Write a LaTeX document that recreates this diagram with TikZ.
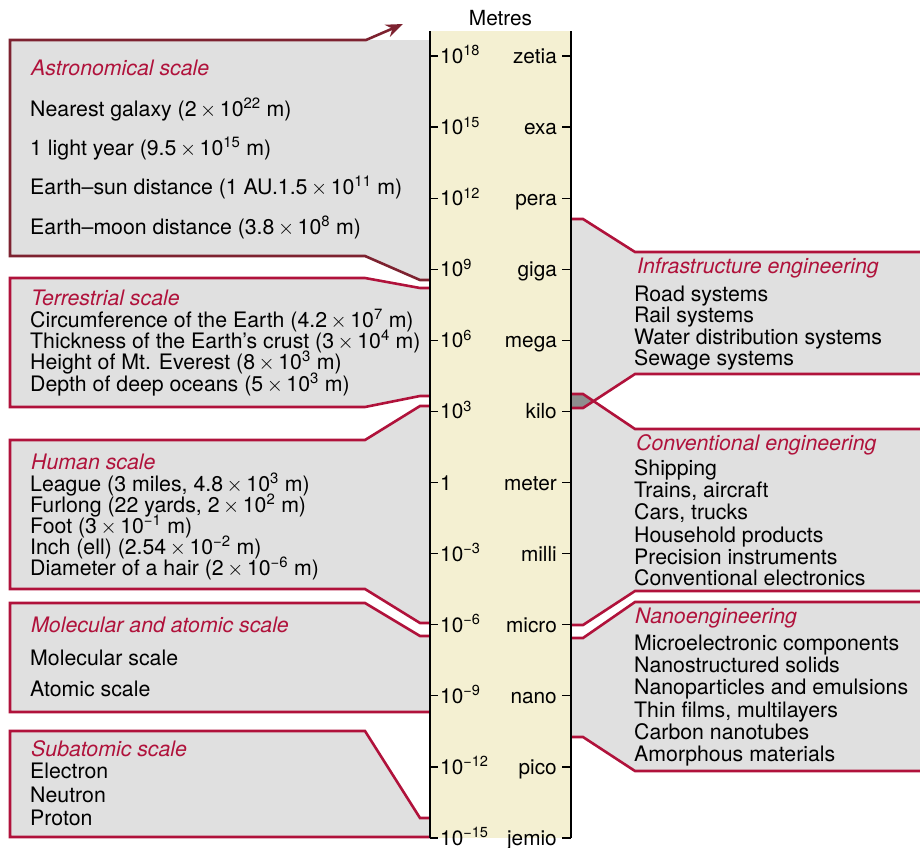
\documentclass[tikz,border=0pt]{standalone}
\usepackage{fontspec}
\setmainfont{TeX Gyre Heros}
\usetikzlibrary{arrows.meta}
\definecolor{crim}{HTML}{B0123B}
\definecolor{maroon}{HTML}{7D2230}
\definecolor{boxgray}{HTML}{E0E0E0}
\definecolor{cream}{HTML}{F4F0D2}
\definecolor{overlapgray}{HTML}{8E8E8E}
\newcommand{\tms}{\,$\times$\,}
\begin{document}
\begin{tikzpicture}[x=1pt,y=-1pt,
  redline/.style={draw=crim,line width=2.6pt,line join=miter},
  astroline/.style={draw=maroon,line width=2.6pt,line join=miter},
  txt/.style={anchor=base west,inner sep=0pt,font=\fontsize{21.3}{22}\selectfont,text=black},
  ttl/.style={anchor=base west,inner sep=0pt,font=\fontsize{21.3}{22}\selectfont\itshape,text=crim},
  scl/.style={inner sep=0pt,font=\fontsize{20.8}{22}\selectfont,text=black},
  tick/.style={draw=black,line width=1.2pt},
]
\useasboundingbox (0,0) rectangle (920,847);

% ---------- left boxes: fills ----------
\fill[boxgray] (10,40) -- (430,40) -- (430,280) -- (420,280) -- (365,256) -- (10,256) -- cycle;
\fill[boxgray] (10,278) -- (365,278) -- (420,288) -- (430,288) -- (430,396) -- (420,396) -- (365,407) -- (10,407) -- cycle;
\fill[boxgray] (10,440) -- (365,440) -- (420,406) -- (430,406) -- (430,623) -- (420,623) -- (365,589) -- (10,589) -- cycle;
\fill[boxgray] (10,603) -- (365,603) -- (420,636) -- (430,636) -- (430,712) -- (10,712) -- cycle;
\fill[boxgray] (10,731) -- (365,731) -- (420,818) -- (430,818) -- (430,837) -- (10,837) -- cycle;

% ---------- right boxes: fills ----------
\fill[boxgray] (571,219) -- (583,219) -- (635,252) -- (920,252) -- (920,374) -- (635,374) -- (583,408) -- (571,408) -- cycle;
\fill[boxgray] (571,394) -- (583,394) -- (635,429) -- (920,429) -- (920,591) -- (635,591) -- (583,625) -- (571,625) -- cycle;
\fill[boxgray] (571,638) -- (583,638) -- (635,602) -- (920,602) -- (920,771) -- (635,771) -- (583,737) -- (571,737) -- cycle;
\fill[overlapgray] (571,394) -- (583,394) -- (593,401) -- (583,408) -- (571,408) -- cycle;

% ---------- outlines ----------
\draw[astroline,-{Stealth[length=17pt,width=13pt]}] (430,280) -- (420,280) -- (365,256) -- (10,256) -- (10,40) -- (366,40) -- (403,24);
\draw[redline] (430,288) -- (420,288) -- (365,278) -- (10,278) -- (10,407) -- (365,407) -- (420,396) -- (430,396);
\draw[redline] (430,406) -- (420,406) -- (365,440) -- (10,440) -- (10,589) -- (365,589) -- (420,623) -- (430,623);
\draw[redline] (430,636) -- (420,636) -- (365,603) -- (10,603) -- (10,712) -- (430,712);
\draw[redline] (430,818) -- (420,818) -- (365,731) -- (10,731) -- (10,837) -- (430,837);

\draw[redline] (571,219) -- (583,219) -- (635,252) -- (920,252);
\draw[redline] (571,408) -- (583,408) -- (635,374) -- (920,374);
\draw[redline] (571,394) -- (583,394) -- (635,429) -- (920,429);
\draw[redline] (571,625) -- (583,625) -- (635,591) -- (920,591);
\draw[redline] (571,638) -- (583,638) -- (635,602) -- (920,602);
\draw[redline] (571,737) -- (583,737) -- (635,771) -- (920,771);

% ---------- scale column ----------
\fill[cream] (430,31) rectangle (571,838);
\draw[black,line width=1.3pt] (430,31) -- (430,838);
\draw[black,line width=1.3pt] (571,31) -- (571,838);
\node[scl,anchor=base] (metres) at (500.5,25) {Metres};

\foreach \i/\l/\r in {0/{10\textsuperscript{18}}/zetia, 1/{10\textsuperscript{15}}/exa, 2/{10\textsuperscript{12}}/pera,
  3/{10\textsuperscript{9}}/giga, 4/{10\textsuperscript{6}}/mega, 5/{10\textsuperscript{3}}/kilo, 6/{1}/meter,
  7/{10\textsuperscript{−3}}/milli, 8/{10\textsuperscript{−6}}/micro, 9/{10\textsuperscript{−9}}/nano,
  10/{10\textsuperscript{−12}}/pico, 11/{10\textsuperscript{−15}}/jemio}{
  \pgfmathsetmacro{\yy}{56+71.09*\i}
  \draw[tick] (430,\yy) -- (438,\yy);
  \draw[tick] (562,\yy) -- (571,\yy);
  \node[scl,anchor=base west] (L\i) at (440,\yy+7.5) {\l};
  \node[scl,anchor=base east] (R\i) at (557,\yy+7.5) {\r};
}

% ---------- left texts ----------
\node[ttl] (astT) at (31,75) {Astronomical scale};
\node[txt] (ast1) at (30,116) {Nearest galaxy (2\tms 10\textsuperscript{22} m)};
\node[txt] (ast2) at (30,155.5) {1 light year (9.5\tms 10\textsuperscript{15} m)};
\node[txt] (ast3) at (30,194.5) {Earth–sun distance (1 AU.1.5\tms 10\textsuperscript{11} m)};
\node[txt] (ast4) at (30,234) {Earth–moon distance (3.8\tms 10\textsuperscript{8} m)};

\node[ttl] (terT) at (31,305) {Terrestrial scale};
\node[txt] (ter1) at (30,327) {Circumference of the Earth (4.2\tms 10\textsuperscript{7} m)};
\node[txt] (ter2) at (30,348) {Thickness of the Earth’s crust (3\tms 10\textsuperscript{4} m)};
\node[txt] (ter3) at (30,369) {Height of Mt. Everest (8\tms 10\textsuperscript{3} m)};
\node[txt] (ter4) at (30,391) {Depth of deep oceans (5\tms 10\textsuperscript{3} m)};

\node[ttl] (humT) at (31,469) {Human scale};
\node[txt] (hum1) at (30,491) {League (3 miles, 4.8\tms 10\textsuperscript{3} m)};
\node[txt] (hum2) at (30,512) {Furlong (22 yards, 2\tms 10\textsuperscript{2} m)};
\node[txt] (hum3) at (30,533) {Foot (3\tms 10\textsuperscript{−1} m)};
\node[txt] (hum4) at (30,554) {Inch (ell) (2.54\tms 10\textsuperscript{−2} m)};
\node[txt] (hum5) at (30,575) {Diameter of a hair (2\tms 10\textsuperscript{−6} m)};

\node[ttl] (molT) at (31,632) {Molecular and atomic scale};
\node[txt] (mol1) at (30,665) {Molecular scale};
\node[txt] (mol2) at (30,696) {Atomic scale};

\node[ttl] (subT) at (31,756) {Subatomic scale};
\node[txt] (sub1) at (30,778) {Electron};
\node[txt] (sub2) at (30,802) {Neutron};
\node[txt] (sub3) at (30,825) {Proton};

% ---------- right texts ----------
\node[ttl] (infT) at (637,273) {Infrastructure engineering};
\node[txt] (inf1) at (634,301) {Road systems};
\node[txt] (inf2) at (634,322.5) {Rail systems};
\node[txt] (inf3) at (634,344) {Water distribution systems};
\node[txt] (inf4) at (634,365) {Sewage systems};

\node[ttl] (conT) at (636,450) {Conventional engineering};
\node[txt] (con1) at (634,475) {Shipping};
\node[txt] (con2) at (634,497) {Trains, aircraft};
\node[txt] (con3) at (634,519) {Cars, trucks};
\node[txt] (con4) at (634,542) {Household products};
\node[txt] (con5) at (634,564) {Precision instruments};
\node[txt] (con6) at (634,585) {Conventional electronics};

\node[ttl] (nanT) at (635,623) {Nanoengineering};
\node[txt] (nan1) at (634,650) {Microelectronic components};
\node[txt] (nan2) at (634,672) {Nanostructured solids};
\node[txt] (nan3) at (634,694) {Nanoparticles and emulsions};
\node[txt] (nan4) at (634,717) {Thin films, multilayers};
\node[txt] (nan5) at (634,739) {Carbon nanotubes};
\node[txt] (nan6) at (634,761) {Amorphous materials};
\end{tikzpicture}
\end{document}
